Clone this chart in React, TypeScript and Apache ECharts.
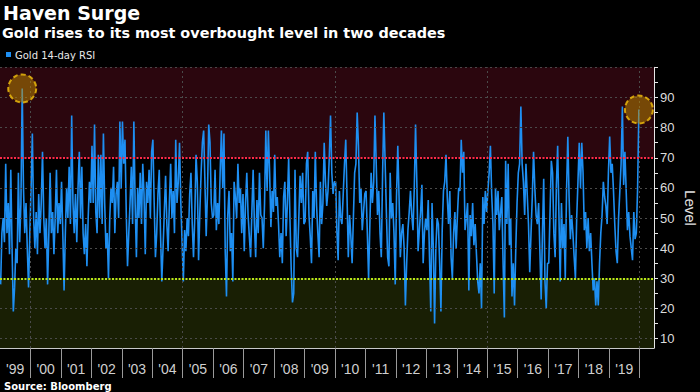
import React, { useEffect, useRef } from "react";
import * as echarts from "echarts";

// Gold 14-day RSI (about two readings per month)
const rsi1999 = [28, 45, 50, 42, 68, 45, 55, 38, 66, 40, 19, 27, 40, 35, 65, 42, 55, 93, 60, 45, 55, 40, 27, 45];
const rsi2000 = [60, 78, 50, 40, 52, 38, 58, 45, 55, 72, 50, 40, 50, 28, 45, 65, 45, 52, 38, 50, 66, 45, 55, 48];
const rsi2001 = [62, 45, 26, 45, 60, 50, 67, 48, 84, 55, 45, 58, 42, 60, 72, 50, 67, 45, 38, 48, 34, 50, 62, 55];
const rsi2002 = [74, 55, 81, 52, 45, 71, 50, 71, 48, 78, 55, 40, 45, 30, 50, 60, 55, 67, 45, 58, 62, 50, 82, 60];
const rsi2003 = [82, 68, 76, 52, 34, 45, 55, 67, 48, 82, 55, 37, 60, 50, 65, 48, 68, 58, 38, 62, 55, 66, 50, 72];
const rsi2004 = [76, 55, 37, 45, 58, 66, 45, 29, 40, 52, 64, 48, 39, 55, 68, 50, 59, 45, 76, 55, 62, 75, 55, 42];
const rsi2005 = [29, 46, 39, 50, 44, 58, 65, 48, 37, 50, 71, 62, 36, 52, 65, 75, 79, 62, 44, 58, 81, 75, 55, 50];
const rsi2006 = [51, 66, 46, 55, 48, 65, 79, 60, 78, 39, 24, 51, 59, 39, 45, 29, 62, 57, 50, 68, 55, 60, 45, 58];
const rsi2007 = [39, 55, 65, 51, 44, 37, 52, 66, 48, 37, 56, 45, 65, 51, 50, 40, 55, 79, 59, 79, 65, 47, 59, 52];
const rsi2008 = [71, 54, 57, 48, 37, 45, 35, 57, 62, 44, 55, 70, 50, 33, 22, 25, 66, 40, 37, 50, 64, 55, 65, 48];
const rsi2009 = [49, 68, 72, 51, 44, 35, 59, 50, 72, 54, 45, 37, 62, 48, 55, 75, 62, 54, 59, 70, 84, 65, 58, 62];
const rsi2010 = [62, 46, 36, 59, 50, 48, 58, 68, 76, 57, 37, 51, 44, 35, 50, 65, 68, 85, 74, 55, 60, 46, 52, 58];
const rsi2011 = [59, 45, 30, 48, 65, 55, 62, 84, 68, 51, 59, 45, 37, 64, 85, 69, 52, 37, 34, 65, 50, 55, 45, 28];
const rsi2012 = [57, 74, 57, 37, 45, 48, 40, 21, 35, 46, 52, 59, 51, 46, 60, 81, 62, 39, 46, 52, 61, 35, 45, 50];
const rsi2013 = [46, 56, 37, 19, 55, 40, 15, 40, 50, 48, 35, 19, 46, 59, 62, 71, 57, 48, 59, 37, 30, 45, 52, 40];
const rsi2014 = [51, 60, 59, 76, 65, 72, 46, 50, 55, 26, 51, 44, 55, 41, 48, 38, 29, 25, 35, 20, 57, 48, 59, 52];
const rsi2015 = [59, 65, 74, 58, 48, 25, 60, 51, 59, 46, 52, 57, 35, 17, 69, 48, 68, 41, 50, 24, 35, 21, 40, 55];
const rsi2016 = [65, 68, 87, 68, 62, 51, 68, 58, 48, 32, 45, 57, 72, 60, 51, 48, 55, 39, 23, 45, 63, 29, 20, 35];
const rsi2017 = [35, 52, 69, 65, 45, 37, 61, 74, 51, 29, 55, 40, 48, 30, 59, 77, 57, 43, 51, 45, 37, 30, 50, 62];
const rsi2018 = [75, 60, 75, 65, 46, 52, 40, 50, 39, 45, 35, 26, 30, 21, 29, 21, 35, 45, 51, 62, 57, 54, 48, 65];
const rsi2019 = [77, 65, 68, 59, 48, 39, 35, 50, 59, 68, 87, 61, 72, 59, 46, 52, 44, 40, 36, 52, 43, 45, 60, 86];

const YEARLY: [number, number[]][] = [
  [1999, rsi1999], [2000, rsi2000], [2001, rsi2001], [2002, rsi2002], [2003, rsi2003],
  [2004, rsi2004], [2005, rsi2005], [2006, rsi2006], [2007, rsi2007], [2008, rsi2008],
  [2009, rsi2009], [2010, rsi2010], [2011, rsi2011], [2012, rsi2012], [2013, rsi2013],
  [2014, rsi2014], [2015, rsi2015], [2016, rsi2016], [2017, rsi2017], [2018, rsi2018],
  [2019, rsi2019],
];

const TICK_YEARS = [2000, 2001, 2002, 2003, 2004, 2005, 2006, 2007, 2008, 2009, 2010, 2011, 2012, 2013, 2014, 2015, 2016, 2017, 2018, 2019, 2020];
const LABEL_YEARS = [1999, 2000, 2001, 2002, 2003, 2004, 2005, 2006, 2007, 2008, 2009, 2010, 2011, 2012, 2013, 2014, 2015, 2016, 2017, 2018, 2019];
const GRID_YEARS = [2000, 2005, 2010, 2015, 2020];
const Y_TICKS = [10, 15, 20, 25, 30, 35, 40, 45, 50, 55, 60, 65, 70, 75, 80, 85, 90, 95, 100];
const Y_LABELS = [10, 20, 30, 40, 50, 60, 70, 80, 90];
const GRID_LEVELS = [10, 20, 40, 50, 60, 80, 90, 100];
const OVERBOUGHT = 70;
const OVERSOLD = 30;
const X_MIN = 1999;
const X_MAX = 2020.476;
const Y_MIN = 6.9;
const Y_MAX = 100;

const TITLE = "Haven Surge";
const SUBTITLE = "Gold rises to its most overbought level in two decades";
const LEGEND = "Gold 14-day RSI";
const SOURCE = "Source: Bloomberg";
const AXIS_NAME = "Level";

export default function App() {
  const ref = useRef<HTMLDivElement>(null);

  useEffect(() => {
    if (!ref.current) return;
    const chart = echarts.init(ref.current, null, { renderer: "svg" });

    const points: [number, number][] = YEARLY.flatMap(([y, arr]) =>
      arr.map((v, i) => [y + (i + 0.5) / arr.length, v] as [number, number])
    );
    const first = points.filter((p) => p[0] < 2000);
    const peak1999 = first.reduce((a, b) => (b[1] > a[1] ? b : a));
    const last = points[points.length - 1];

    const font = '"DejaVu Sans", sans-serif';
    const font2 = '"Liberation Sans", Arial, sans-serif';

    chart.setOption({
      animation: false,
      backgroundColor: "#000",
      grid: { left: 0, right: 46, top: 67.3, bottom: 44 },
      xAxis: {
        type: "value",
        min: X_MIN,
        max: X_MAX,
        axisLine: { show: true, lineStyle: { color: "#c8c8c8", width: 1 } },
        axisTick: {
          show: true,
          customValues: TICK_YEARS,
          length: 30,
          lineStyle: { color: "#9a9a9a", width: 1 },
        },
        axisLabel: {
          customValues: LABEL_YEARS.map((y) => y + 0.5),
          formatter: (v: number) => "'" + String(Math.floor(v)).slice(2),
          color: "#cfcfcf",
          fontSize: 14,
          fontFamily: font2,
          margin: 14,
        },
        splitLine: { show: false },
      },
      yAxis: {
        type: "value",
        position: "right",
        min: Y_MIN,
        max: Y_MAX,
        axisLine: { show: true, lineStyle: { color: "#e6e6e6", width: 1 } },
        axisTick: {
          show: true,
          customValues: Y_TICKS,
          length: 4,
          lineStyle: { color: "#e6e6e6" },
        },
        axisLabel: {
          customValues: Y_LABELS,
          color: "#dcdcdc",
          fontSize: 13,
          fontFamily: font2,
          margin: 6,
        },
        splitLine: { show: false },
      },
      series: [
        {
          type: "line",
          data: [],
          z: 1,
          silent: true,
          markLine: {
            silent: true,
            symbol: ["none", "none"],
            label: { show: false },
            lineStyle: { color: "#4a4a4a", type: [2, 3], width: 1 },
            data: [
              ...GRID_LEVELS.map((v) => ({ yAxis: v })),
              ...GRID_YEARS.map((v) => ({ xAxis: v })),
            ],
          },
        },
        {
          type: "line",
          name: LEGEND,
          data: points,
          z: 2,
          symbol: "none",
          showSymbol: false,
          lineStyle: { color: "#1e8ff2", width: 1.6 },
          itemStyle: { color: "#1e8ff2" },
        },
        {
          type: "line",
          data: [],
          z: 3,
          silent: true,
          markArea: {
            silent: true,
            data: [
              [
                { yAxis: OVERBOUGHT, itemStyle: { color: "rgba(120,18,40,0.36)" } },
                { yAxis: Y_MAX },
              ],
              [
                { yAxis: Y_MIN, itemStyle: { color: "rgba(82,104,14,0.3)" } },
                { yAxis: OVERSOLD },
              ],
            ],
          },
        },
        {
          type: "line",
          data: [],
          z: 4,
          silent: true,
          markLine: {
            silent: true,
            symbol: ["none", "none"],
            label: { show: false },
            data: [
              { yAxis: OVERBOUGHT, lineStyle: { color: "#ff2a4a", type: [2, 1.5], width: 2 } },
              { yAxis: OVERSOLD, lineStyle: { color: "#b8e619", type: [2, 1.5], width: 2 } },
            ],
          },
        },
        {
          type: "scatter",
          data: [peak1999, last],
          z: 5,
          silent: true,
          symbol: "circle",
          symbolSize: 28,
          itemStyle: {
            color: "rgba(196,140,0,0.62)",
            borderColor: "#f4c20d",
            borderWidth: 2,
            borderType: [5, 3],
          },
        },
      ],
      graphic: [
        {
          type: "text",
          x: 3,
          y: 12.5,
          style: { text: TITLE, fill: "#fff", fontSize: 19, fontWeight: "bold", fontFamily: font, verticalAlign: "middle" },
        },
        {
          type: "text",
          x: 2,
          y: 32.8,
          style: { text: SUBTITLE, fill: "#fff", fontSize: 14.4, fontWeight: "bold", fontFamily: font, verticalAlign: "middle" },
        },
        {
          type: "rect",
          shape: { x: 6, y: 52, width: 5, height: 5 },
          style: { fill: "#1e8ff2" },
        },
        {
          type: "text",
          x: 15,
          y: 55.5,
          style: { text: LEGEND, fill: "#e8e8e8", fontSize: 10, fontFamily: font, verticalAlign: "middle" },
        },
        {
          type: "text",
          x: 4,
          y: 386.5,
          style: { text: SOURCE, fill: "#fff", fontSize: 10, fontWeight: "bold", fontFamily: font, verticalAlign: "middle" },
        },
        {
          type: "text",
          x: 690,
          y: 208,
          rotation: -Math.PI / 2,
          style: { text: AXIS_NAME, fill: "#e0e0e0", fontSize: 15, fontFamily: font2, align: "center", verticalAlign: "middle" },
        },
      ],
    });

    return () => chart.dispose();
  }, []);

  return (
    <div
      ref={ref}
      style={{ position: "absolute", left: 0, top: 0, width: 700, height: 392 }}
    />
  );
}
